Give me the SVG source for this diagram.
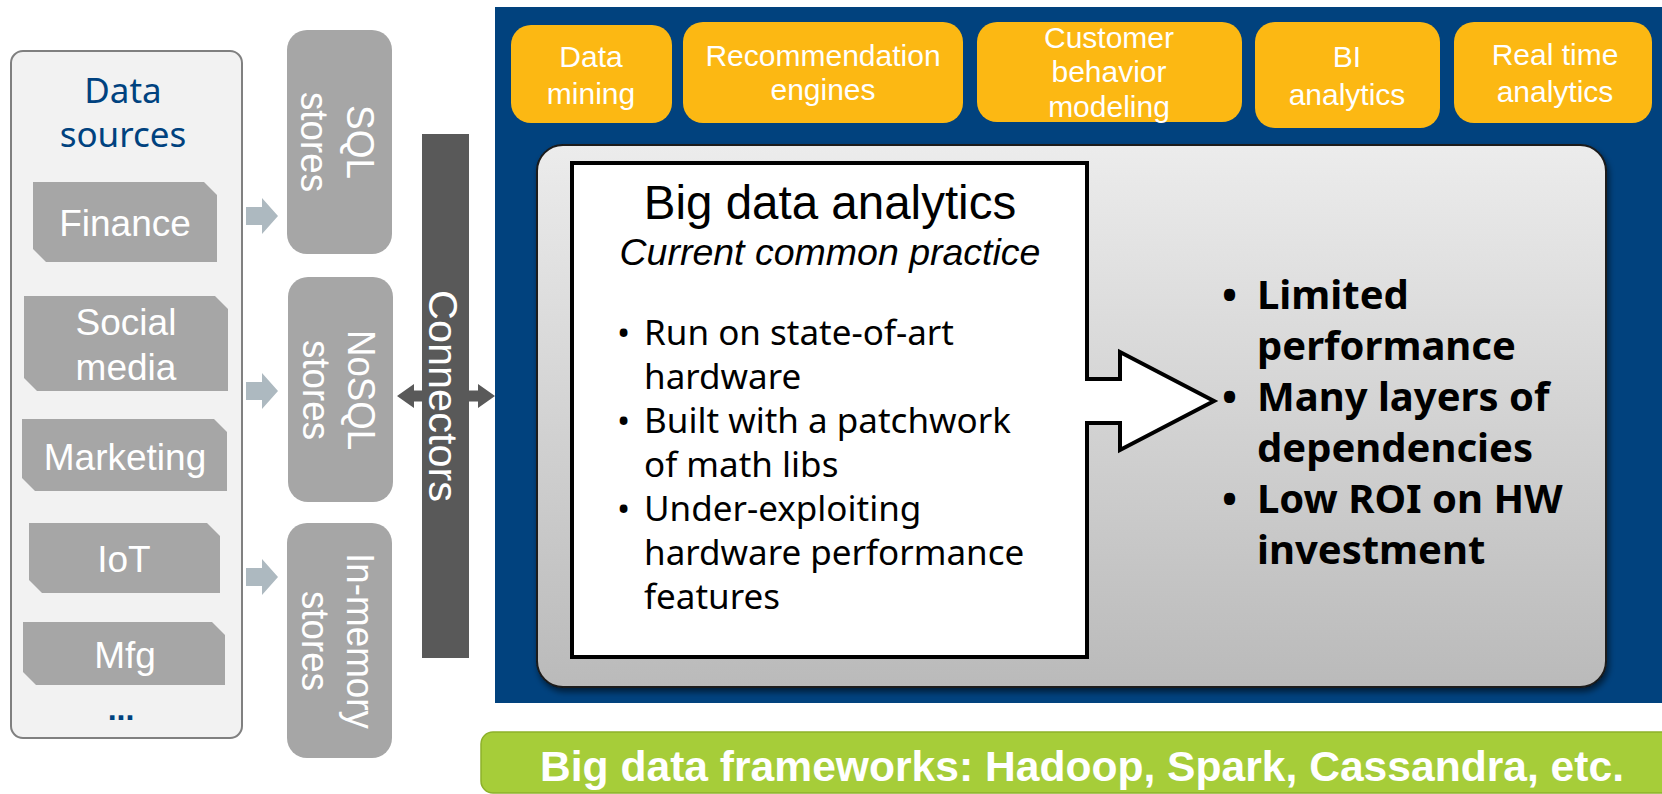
<svg xmlns="http://www.w3.org/2000/svg" width="1662" height="794" viewBox="0 0 1662 794">
  <style>
    .arial { font-family: "Liberation Sans", Arial, sans-serif; }
    .clear { font-family: "Noto Sans", "Open Sans", sans-serif; }
    .src { fill: #a6a6a6; }
    .src-txt { font-family: "Liberation Sans", Arial, sans-serif; font-size: 37px; fill: #ffffff; text-anchor: middle; }
    .store { fill: #a6a6a6; }
    .store-txt { font-family: "Liberation Sans", Arial, sans-serif; font-size: 39px; fill: #ffffff; text-anchor: middle; }
    .feed { fill: #adb9c0; }
    .app { fill: #fcb813; }
    .app-txt { font-family: "Liberation Sans", Arial, sans-serif; font-size: 30px; fill: #ffffff; text-anchor: middle; }
    .bul { font-family: "Noto Sans", "Open Sans", sans-serif; font-size: 35px; fill: #000000; }
    .bulb { font-family: "Noto Sans", "Open Sans", sans-serif; font-size: 40px; font-weight: bold; fill: #000000; }
  </style>
  <defs>
    <linearGradient id="panelGrad" x1="0" y1="0" x2="0" y2="1">
      <stop offset="0" stop-color="#ececec"/>
      <stop offset="1" stop-color="#bababa"/>
    </linearGradient>
    <filter id="shadow" x="-5%" y="-5%" width="112%" height="115%">
      <feDropShadow dx="2" dy="4" stdDeviation="3" flood-color="#000000" flood-opacity="0.55"/>
    </filter>
  </defs>

  <rect width="1662" height="794" fill="#ffffff"/>

  <!-- Data sources column -->
  <g id="data-sources">
    <rect x="11" y="51" width="231" height="687" rx="12" fill="#f2f2f2" stroke="#808080" stroke-width="2"/>
    <text class="clear" x="123" y="103" font-size="35" fill="#00427f" text-anchor="middle">Data</text>
    <text class="clear" x="123" y="147" font-size="35" fill="#00427f" text-anchor="middle">sources</text>
    <text class="arial" x="121" y="720" font-size="32" font-weight="bold" fill="#00427f" text-anchor="middle">...</text>
  </g>

  <g id="src-finance">
    <path class="src" d="M33,182 H204 L217,195 V262 H46 L33,249 Z"/>
    <text class="src-txt" x="125" y="236">Finance</text>
  </g>
  <g id="src-social">
    <path class="src" d="M24,296 H215 L228,309 V391 H37 L24,378 Z"/>
    <text class="src-txt" x="126" y="335">Social</text>
    <text class="src-txt" x="126" y="380">media</text>
  </g>
  <g id="src-marketing">
    <path class="src" d="M22,419 H214 L227,432 V491 H35 L22,478 Z"/>
    <text class="src-txt" x="125" y="470">Marketing</text>
  </g>
  <g id="src-iot">
    <path class="src" d="M29,523 H207 L220,536 V593 H42 L29,580 Z"/>
    <text class="src-txt" x="124" y="572">IoT</text>
  </g>
  <g id="src-mfg">
    <path class="src" d="M23,622 H212 L225,635 V685 H36 L23,672 Z"/>
    <text class="src-txt" x="125" y="668">Mfg</text>
  </g>

  <!-- Storage layers -->
  <g id="store-sql">
    <rect class="store" x="287" y="30" width="105" height="224" rx="20"/>
    <g transform="translate(0,142) rotate(90)">
      <text class="store-txt" x="0" y="-347" textLength="74" lengthAdjust="spacingAndGlyphs">SQL</text>
      <text class="store-txt" x="0" y="-301" textLength="100" lengthAdjust="spacingAndGlyphs">stores</text>
    </g>
  </g>
  <g id="store-nosql">
    <rect class="store" x="288" y="277" width="105" height="225" rx="20"/>
    <g transform="translate(0,390) rotate(90)">
      <text class="store-txt" x="0" y="-348" textLength="120" lengthAdjust="spacingAndGlyphs">NoSQL</text>
      <text class="store-txt" x="0" y="-303" textLength="100" lengthAdjust="spacingAndGlyphs">stores</text>
    </g>
  </g>
  <g id="store-inmemory">
    <rect class="store" x="287" y="523" width="105" height="235" rx="20"/>
    <g transform="translate(0,641) rotate(90)">
      <text class="store-txt" x="0" y="-347" textLength="176" lengthAdjust="spacingAndGlyphs">In-memory</text>
      <text class="store-txt" x="0" y="-302" textLength="100" lengthAdjust="spacingAndGlyphs">stores</text>
    </g>
  </g>

  <!-- Analytics platform -->
  <g id="platform">
    <rect x="495" y="7" width="1167" height="696" fill="#01427e"/>
  </g>

  <g id="app-mining">
    <rect class="app" x="511" y="25" width="161" height="98" rx="20"/>
    <text class="app-txt" x="591" y="67">Data</text>
    <text class="app-txt" x="591" y="104">mining</text>
  </g>
  <g id="app-recommendation">
    <rect class="app" x="683" y="22" width="280" height="101" rx="20"/>
    <text class="app-txt" x="823" y="66">Recommendation</text>
    <text class="app-txt" x="823" y="100">engines</text>
  </g>
  <g id="app-customer">
    <rect class="app" x="977" y="22" width="265" height="100" rx="20"/>
    <text class="app-txt" x="1109" y="48">Customer</text>
    <text class="app-txt" x="1109" y="82">behavior</text>
    <text class="app-txt" x="1109" y="117">modeling</text>
  </g>
  <g id="app-bi">
    <rect class="app" x="1255" y="22" width="185" height="106" rx="20"/>
    <text class="app-txt" x="1347" y="67">BI</text>
    <text class="app-txt" x="1347" y="105">analytics</text>
  </g>
  <g id="app-realtime">
    <rect class="app" x="1454" y="22" width="198" height="101" rx="20"/>
    <text class="app-txt" x="1555" y="65">Real time</text>
    <text class="app-txt" x="1555" y="102">analytics</text>
  </g>

  <g id="analytics-panel">
    <rect x="537" y="145" width="1069" height="542" rx="26" fill="url(#panelGrad)" stroke="#1a1a1a" stroke-width="2" filter="url(#shadow)"/>
  </g>

  <g id="practice-box">
    <path d="M572,163 H1087 V379 H1120 V352 L1214,401 L1120,450 V423 H1087 V657 H572 Z" fill="#ffffff" stroke="#000000" stroke-width="4" stroke-linejoin="miter"/>
    <text class="arial" x="830" y="219" font-size="47.5" fill="#000000" text-anchor="middle">Big data analytics</text>
    <text class="arial" x="830" y="265" font-size="37.5" font-style="italic" fill="#000000" text-anchor="middle">Current common practice</text>
    <text class="bul" x="617" y="345">•</text>
    <text class="bul" x="644" y="345">Run on state-of-art</text>
    <text class="bul" x="644" y="389">hardware</text>
    <text class="bul" x="617" y="433">•</text>
    <text class="bul" x="644" y="433">Built with a patchwork</text>
    <text class="bul" x="644" y="477">of math libs</text>
    <text class="bul" x="617" y="521">•</text>
    <text class="bul" x="644" y="521">Under-exploiting</text>
    <text class="bul" x="644" y="565">hardware performance</text>
    <text class="bul" x="644" y="609">features</text>
  </g>

  <g id="consequences">
    <text class="bulb" x="1222" y="309">•</text>
    <text class="bulb" x="1257" y="309">Limited</text>
    <text class="bulb" x="1257" y="360">performance</text>
    <text class="bulb" x="1222" y="411">•</text>
    <text class="bulb" x="1257" y="411">Many layers of</text>
    <text class="bulb" x="1257" y="462">dependencies</text>
    <text class="bulb" x="1222" y="513">•</text>
    <text class="bulb" x="1257" y="513">Low ROI on HW</text>
    <text class="bulb" x="1257" y="564">investment</text>
  </g>

  <!-- Connectors -->
  <g id="connectors">
    <path class="feed" d="M246,207 H262 V198 L278,216 L262,234 V225 H246 Z"/>
    <path class="feed" d="M246,382 H262 V373 L278,391 L262,409 V400 H246 Z"/>
    <path class="feed" d="M246,568 H262 V559 L278,577 L262,595 V586 H246 Z"/>
    <path d="M397,396 L414,384 V390.5 H478 V384 L495,396 L478,408 V401.5 H414 V408 Z" fill="#595959"/>
  </g>

  <g id="connector-bar">
    <rect x="422" y="134" width="47" height="524" fill="#595959"/>
    <g transform="translate(0,396) rotate(90)">
      <text class="arial" x="0" y="-429" font-size="40" fill="#ffffff" text-anchor="middle" textLength="212" lengthAdjust="spacingAndGlyphs">Connectors</text>
    </g>
  </g>

  <!-- Frameworks -->
  <g id="frameworks">
    <rect x="481" y="732" width="1200" height="61" rx="12" fill="#a6cd39" stroke="#8db12a" stroke-width="1.5"/>
    <text class="arial" x="540" y="781" font-size="43" font-weight="bold" fill="#ffffff" textLength="1084" lengthAdjust="spacingAndGlyphs">Big data frameworks: Hadoop, Spark, Cassandra, etc.</text>
  </g>
</svg>
